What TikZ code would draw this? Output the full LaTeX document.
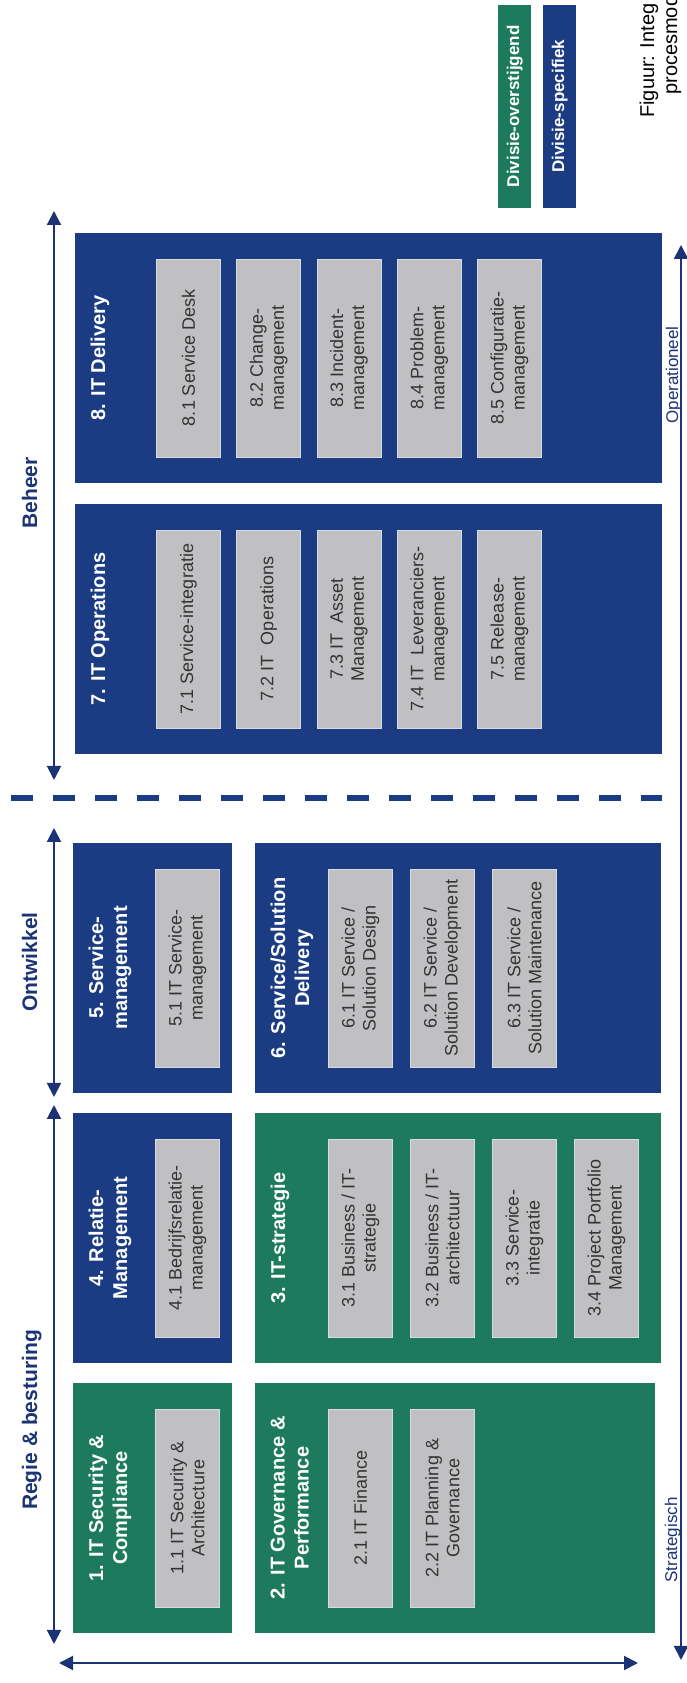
\documentclass[tikz,border=0pt]{standalone}
\usepackage{fontspec}
\setmainfont{Liberation Sans}
\usetikzlibrary{arrows.meta}
\definecolor{divblue}{RGB}{27,60,130}
\definecolor{divgreen}{RGB}{29,122,92}
\definecolor{subgray}{RGB}{192,192,194}
\definecolor{subedge}{RGB}{214,218,226}
\definecolor{axisblue}{RGB}{28,52,118}
\tikzset{>={Triangle[length=14pt,width=14pt]}}
\tikzset{
  proc/.style={anchor=north west,inner sep=0pt,minimum width=250pt},
  proctitle/.style={anchor=north,inner sep=0pt,align=center,text=white,
    font=\fontsize{20}{24}\selectfont\bfseries},
  sub/.style={anchor=north,fill=subgray,draw=subedge,line width=0.8pt,
    minimum width=198pt,minimum height=64pt,inner sep=0pt,align=center,
    text=black!80,font=\fontsize{18}{21}\selectfont},
  axis/.style={<->,draw=axisblue,line width=2pt},
  axislabel/.style={anchor=base,inner sep=0pt,text=axisblue,
    font=\fontsize{21}{24}\selectfont\bfseries},
  levellabel/.style={anchor=base,inner sep=0pt,text=axisblue,
    font=\fontsize{17}{20}\selectfont},
  legend/.style={anchor=north west,minimum width=203pt,minimum height=33pt,
    inner sep=0pt,text=white,font=\fontsize{17}{20}\selectfont\bfseries},
  caption/.style={anchor=base west,inner sep=0pt,font=\fontsize{20}{24}\selectfont}
}

\begin{document}
\begin{tikzpicture}[x=1pt,y=1pt,rotate=90,transform shape]
  \useasboundingbox (0,0) rectangle (1683,-687);
  % process groups
  \node[proc,fill=divgreen,minimum height=159pt] (p1) at (50,-73) {};
  \node[proc,fill=divgreen,minimum height=400pt] (p2) at (50,-255) {};
  \node[proc,fill=divgreen,minimum height=406pt] (p3) at (320,-255) {};
  \node[proc,fill=divblue,minimum height=159pt] (p4) at (320,-73) {};
  \node[proc,fill=divblue,minimum height=159pt] (p5) at (590,-73) {};
  \node[proc,fill=divblue,minimum height=406pt] (p6) at (590,-255) {};
  \node[proc,fill=divblue,minimum height=587pt] (p7) at (929,-75) {};
  \node[proc,fill=divblue,minimum height=587pt] (p8) at (1200,-75) {};
  % group titles
  \node[proctitle] (t1) at (175,-88.5) {1. IT Security \&\\Compliance};
  \node[proctitle] (t2) at (175,-270.5) {2. IT Governance \&\\Performance};
  \node[proctitle] (t3) at (445,-270.5) {3. IT-strategie};
  \node[proctitle] (t4) at (445,-88.5) {4. Relatie-\\Management};
  \node[proctitle] (t5) at (715,-88.5) {5. Service-\\management};
  \node[proctitle] (t6) at (715,-270.5) {6. Service/Solution\\Delivery};
  \node[proctitle] (t7) at (1054,-90.5) {7. IT Operations};
  \node[proctitle] (t8) at (1325,-90.5) {8. IT Delivery};
  % sub-processes
  \node[sub] (s11) at (175,-155) {1.1 IT Security \&\\Architecture};
  \node[sub] (s21) at (175,-328) {2.1 IT Finance};
  \node[sub] (s22) at (175,-410) {2.2 IT Planning \&\\Governance};
  \foreach \txt [count=\i] in {{3.1 Business / IT-\\strategie},{3.2 Business / IT-\\architectuur},
      {3.3 Service-\\integratie},{3.4 Project Portfolio\\Management}}
    \node[sub] (s3\i) at (445,{-328-82*(\i-1)}) {\txt};
  \node[sub] (s41) at (445,-155) {4.1 Bedrijfsrelatie-\\management};
  \node[sub] (s51) at (715,-155) {5.1 IT Service-\\management};
  \foreach \txt [count=\i] in {{6.1 IT Service /\\Solution Design},{6.2 IT Service /\\Solution Development},
      {6.3 IT Service /\\Solution Maintenance}}
    \node[sub] (s6\i) at (715,{-328-82*(\i-1)}) {\txt};
  \foreach \txt [count=\i] in {{7.1 Service-integratie},{7.2 IT\ \ Operations},{7.3 IT\ \ Asset\\Management},
      {7.4 IT\ \ Leveranciers-\\management},{7.5 Release-\\management}}
    \node[sub] (s7\i) at (1054,{-156-80.25*(\i-1)}) {\txt};
  \foreach \txt [count=\i] in {{8.1 Service Desk},{8.2 Change-\\management},{8.3 Incident-\\management},
      {8.4 Problem-\\management},{8.5 Configuratie-\\management}}
    \node[sub] (s8\i) at (1325,{-156-80.25*(\i-1)}) {\txt};
  % phase axis
  \coordinate (rb0) at (39,-54);   \coordinate (rb1) at (578,-54);
  \coordinate (ow0) at (586,-54);  \coordinate (ow1) at (855,-54);
  \coordinate (bh0) at (903,-54);  \coordinate (bh1) at (1472,-54);
  \draw[axis] (rb0) -- (rb1);
  \draw[axis] (ow0) -- (ow1);
  \draw[axis] (bh0) -- (bh1);
  \node[axislabel] (lrb) at (263,-37) {Regie \& besturing};
  \node[axislabel] (low) at (721,-37) {Ontwikkel};
  \node[axislabel] (lbh) at (1190,-37) {Beheer};
  % level axis
  \coordinate (st) at (23,-681);   \coordinate (op) at (1438,-681);
  \draw[axis] (st) -- (op);
  \node[levellabel] (lst) at (143,-677) {Strategisch};
  \node[levellabel] (lop) at (1308,-678) {Operationeel};
  \coordinate (vt) at (20,-59);    \coordinate (vb) at (20,-638);
  \draw[axis] (vt) -- (vb);
  % separator
  \coordinate (sep0) at (885,-11); \coordinate (sep1) at (885,-662);
  \draw[divblue,line width=6pt,dash pattern=on 22pt off 20pt] (sep0) -- (sep1);
  % legend and caption
  \node[legend,fill=divgreen] (lg1) at (1475,-498) {Divisie-overstijgend};
  \node[legend,fill=divblue] (lg2) at (1475,-543) {Divisie-specifiek};
  \node[caption] (cap1) at (1565,-654) {Figuur: Integ};
  \node[caption] (cap2) at (1588,-677) {procesmod};
\end{tikzpicture}
\end{document}
